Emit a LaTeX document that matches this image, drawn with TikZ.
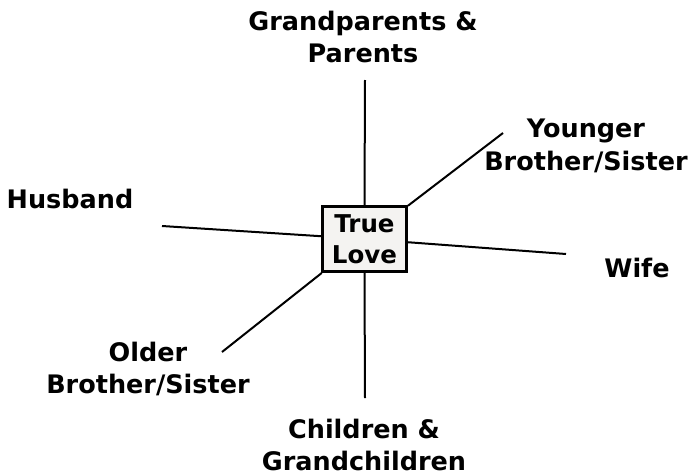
\documentclass[tikz,border=0pt]{standalone}
\usepackage{fontspec}
\setmainfont{DejaVu Sans}
\begin{document}
\begin{tikzpicture}[x=1pt,y=-1pt,
  lbl/.style={font=\fontsize{25.5}{32.5}\selectfont\bfseries, align=center, inner sep=0pt},
  lovebox/.style={draw=black, line width=3pt, fill=boxgray, inner sep=0pt,
    minimum width=84pt, minimum height=65pt, align=center,
    font=\fontsize{24.5}{31}\selectfont\bfseries},
  spoke/.style={line width=2pt, black}]
\definecolor{boxgray}{HTML}{F4F3F1}
\useasboundingbox (0,0) rectangle (689,474);
\node[lovebox] (box) at (364.5,239) {True\\Love};
\coordinate (ct) at (365,80);
\coordinate (cb) at (365,398);
\coordinate (cl) at (162,226);
\coordinate (cr) at (566,254);
\coordinate (cur) at (503,133);
\coordinate (cll) at (222,352);
\draw[spoke] (box.north) -- (ct);
\draw[spoke] (box.south) -- (cb);
\draw[spoke] (box) -- (cl);
\draw[spoke] (box) -- (cr);
\draw[spoke] (box) -- (cur);
\draw[spoke] (box) -- (cll);
\node[lbl] (gp) at (363,37) {Grandparents \&\\Parents};
\node[lbl] (yb) at (586,146) {Younger\\Brother/Sister};
\node[lbl] (hu) at (70,199) {Husband};
\node[lbl] (wi) at (637,268) {Wife};
\node[lbl] (ob) at (148,369) {Older\\Brother/Sister};
\node[lbl] (ch) at (364,445) {Children \&\\Grandchildren};
\end{tikzpicture}
\end{document}
